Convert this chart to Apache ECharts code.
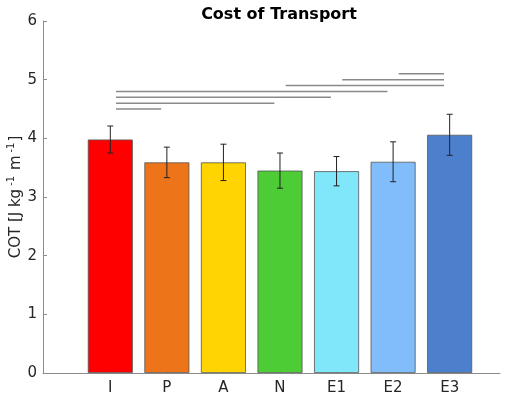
<!DOCTYPE html>
<html>
<head>
	<meta charset="utf-8">
	<title>Cost of Transport</title>
	<script src="https://cdn.jsdelivr.net/npm/echarts@6.0.0/dist/echarts.min.js"></script>
	<style>
		body { margin: 0; background: #fff; }
	</style>
</head>
<body>
	<div id="chart" style="width: 520px; height: 398px;"></div>
	<script>
		// data
		var categories = ['I', 'P', 'A', 'N', 'E1', 'E2', 'E3'];
		var means = [3.98, 3.59, 3.59, 3.45, 3.44, 3.60, 4.06];
		var errors = [0.23, 0.26, 0.31, 0.30, 0.25, 0.34, 0.35];
		var colors = ['#FF0000', '#ED7419', '#FFD400', '#4DCC36', '#80E6FA', '#80BDFA', '#4D80CC'];
		var yTicks = [0, 1, 2, 3, 4, 5, 6];

		// significance pairs (from, to) and their heights
		var sigFrom = ['E2', 'E1', 'N', 'I', 'I', 'I', 'I'];
		var sigTo = ['E3', 'E3', 'E3', 'E2', 'E1', 'N', 'P'];
		var sigHeight = [5.1, 5.0, 4.9, 4.8, 4.7, 4.6, 4.5];

		var chart = echarts.init(document.getElementById('chart'));
		var font = 'DejaVu Sans';

		var barData = means.map(function (v, i) {
			return {
				value: [i + 1, v],
				itemStyle: { color: colors[i] }
			};
		});
		var errData = means.map(function (v, i) {
			return [i + 1, v - errors[i], v + errors[i]];
		});

		var sigSeries = sigFrom.map(function (f, k) {
			var a = categories.indexOf(f) + 1;
			var b = categories.indexOf(sigTo[k]) + 1;
			return {
				type: 'line',
				data: [[a + 0.1, sigHeight[k]], [b - 0.1, sigHeight[k]]],
				symbol: 'none',
				silent: true,
				lineStyle: { color: '#8a8a8a', width: 1.5 },
				z: 5
			};
		});

		var option = {
			animation: false,
			title: {
				text: 'Cost of Transport',
				left: 274,
				textAlign: 'center',
				top: 2,
				textStyle: { fontFamily: font, fontSize: 16, fontWeight: 'bold', color: '#000' }
			},
			grid: { left: 43, right: 20, top: 21, bottom: 25, outerBoundsMode: 'none' },
			xAxis: {
				type: 'value',
				min: -0.19,
				max: 7.89,
				splitLine: { show: false },
				axisLine: { onZero: false, lineStyle: { color: '#8c8c8c', width: 1 } },
				axisTick: {
					inside: true, length: 4,
					customValues: categories.map(function (c, i) { return i + 1; }),
					lineStyle: { color: '#8c8c8c' }
				},
				axisLabel: {
					customValues: categories.map(function (c, i) { return i + 1; }),
					formatter: function (v) { return categories[Math.round(v) - 1] || ''; },
					fontFamily: font, fontSize: 15, color: '#262626', margin: 8
				}
			},
			yAxis: {
				type: 'value',
				min: yTicks[0],
				max: yTicks[yTicks.length - 1],
				interval: 1,
				splitLine: { show: false },
				axisLine: { show: true, onZero: false, lineStyle: { color: '#8c8c8c', width: 1 } },
				axisTick: { show: true, inside: true, length: 4, lineStyle: { color: '#8c8c8c' } },
				axisLabel: { fontFamily: font, fontSize: 15, color: '#262626', margin: 6 },
				name: '{n|COT [J kg}{s|-1}{n| m}{s|-1}{n|]}',
				nameLocation: 'middle',
				nameGap: 17,
				nameMoveOverlap: false,
				nameTextStyle: {
					rich: {
						n: { fontFamily: font, fontSize: 15, color: '#262626' },
						s: { fontFamily: font, fontSize: 10, color: '#262626', verticalAlign: 'top', padding: [0, 1, 10, 3] }
					}
				}
			},
			series: [
				{
					type: 'bar',
					data: barData,
					barWidth: 45,
					itemStyle: { borderColor: '#555', borderWidth: 0.8 },
					z: 2
				},
				{
					type: 'custom',
					data: errData,
					z: 3,
					renderItem: function (params, api) {
						var x = api.value(0);
						var lo = api.coord([x, api.value(1)]);
						var hi = api.coord([x, api.value(2)]);
						var cap = 3;
						var st = { stroke: '#222', lineWidth: 1 };
						return {
							type: 'group',
							children: [
								{ type: 'line', shape: { x1: lo[0], y1: lo[1], x2: hi[0], y2: hi[1] }, style: st },
								{ type: 'line', shape: { x1: lo[0] - cap, y1: lo[1], x2: lo[0] + cap, y2: lo[1] }, style: st },
								{ type: 'line', shape: { x1: hi[0] - cap, y1: hi[1], x2: hi[0] + cap, y2: hi[1] }, style: st }
							]
						};
					}
				}
			].concat(sigSeries)
		};
		chart.setOption(option);
	</script>
</body>
</html>
